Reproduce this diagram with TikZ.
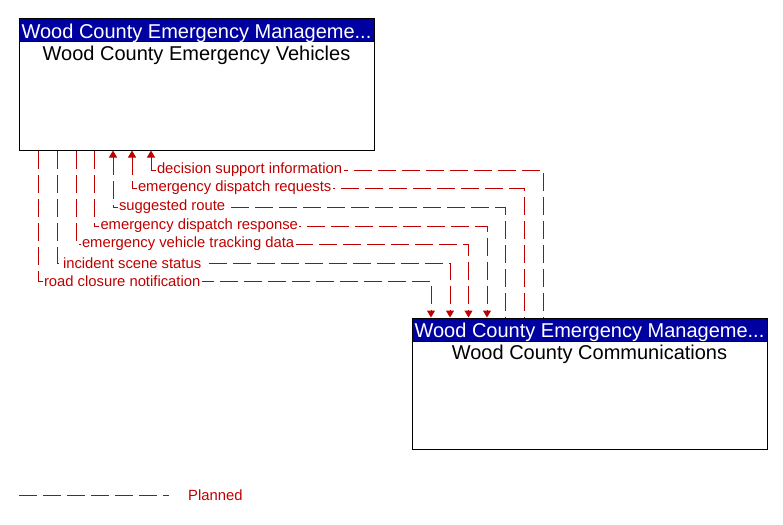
\documentclass[tikz,border=0pt]{standalone}
\usepackage{fontspec}
\setmainfont{Liberation Sans}
\usetikzlibrary{arrows.meta, positioning}

\definecolor{flowred}{RGB}{192,0,0}
\definecolor{headblue}{RGB}{0,0,160}

\tikzset{
    sysbox/.style={rectangle, draw=black, line width=1pt, minimum width=355pt, minimum height=131pt, inner sep=0pt},
    boxhead/.style={rectangle, draw=black, line width=1pt, fill=headblue, text=white, minimum width=355pt, inner sep=0pt, text height=19.3pt, text depth=3.7pt, font=\fontsize{20}{24}\selectfont},
    boxtitle/.style={inner sep=0pt, text height=14.5pt, font=\fontsize{20}{24}\selectfont},
    flow/.style={draw=flowred, line width=1pt, dash pattern=on 18pt off 6pt},
    lbl/.style={anchor=west, xshift=4pt, fill=white, inner sep=1.5pt, text=flowred, font=\fontsize{14.8}{17}\selectfont}
}

\begin{document}
\begin{tikzpicture}[x=1pt, y=-1pt, >={Triangle[length=7pt, width=8pt]}]
    \useasboundingbox (0,0) rectangle (783,524);
    % systems
    \node[sysbox] (veh) at (196.5,84.5) {};
    \node[boxhead, anchor=north] (vehhead) at (veh.north) {Wood County Emergency Manageme...};
    \node[boxtitle, below=3.3pt of vehhead] (vehtitle) {Wood County Emergency Vehicles};
    \node[sysbox] (com) at (589.5,383.5) {};
    \node[boxhead, anchor=north] (comhead) at (com.north) {Wood County Emergency Manageme...};
    \node[boxtitle, below=3.3pt of comhead] (comtitle) {Wood County Communications};
    % flows
    \draw[flow, <-] (veh.south -| 151,0) |- node[lbl] (dsi) {decision support information} (543,170) -- (com.north -| 543,0);
    \draw[flow, <-] (veh.south -| 132,0) |- node[lbl] (edq) {emergency dispatch requests} (524,188) -- (com.north -| 524,0);
    \draw[flow, <-] (veh.south -| 113,0) |- node[lbl] (sr) {suggested route} (505.5,207) -- (com.north -| 505.5,0);
    \draw[flow, ->] (veh.south -| 94.5,0) |- node[lbl] (edr) {emergency dispatch response} (487,226) -- (com.north -| 487,0);
    \draw[flow, ->] (veh.south -| 76,0) |- node[lbl] (evt) {emergency vehicle tracking data} (468.5,244) -- (com.north -| 468.5,0);
    \draw[flow, ->] (veh.south -| 57,0) |- node[lbl] (iss) {incident scene status} (450,263) -- (com.north -| 450,0);
    \draw[flow, ->] (veh.south -| 38,0) |- node[lbl] (rcn) {road closure notification} (431,281) -- (com.north -| 431,0);
    % legend
    \coordinate (lgstart) at (19,495);
    \coordinate (lgend) at (169,495);
    \draw[flow] (lgstart) -- (lgend);
    \node[anchor=west, inner sep=0pt, text=flowred, font=\fontsize{14.8}{17}\selectfont] (planned) at (188,495) {Planned};
\end{tikzpicture}
\end{document}
